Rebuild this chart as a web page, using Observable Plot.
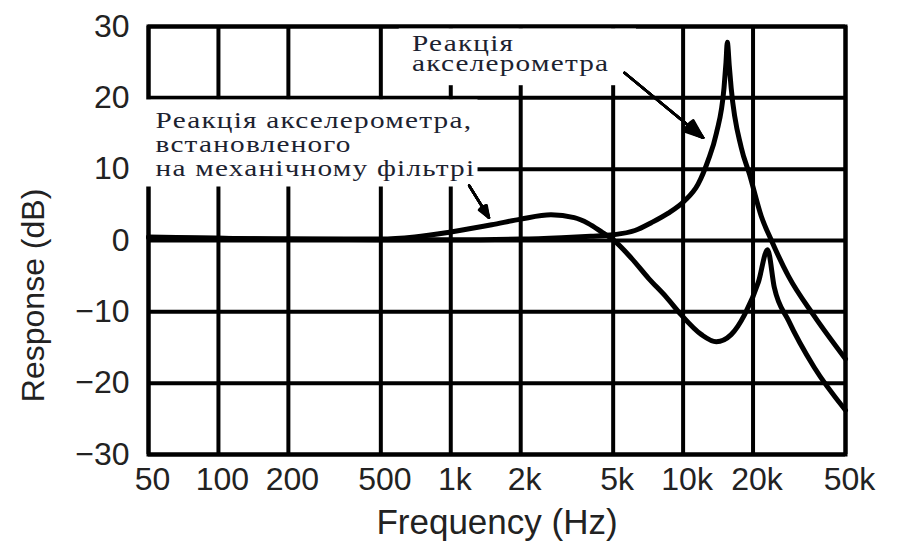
<!DOCTYPE html>
<html>
<head>
<meta charset="utf-8">
<script src="https://cdn.jsdelivr.net/npm/d3@7"></script>
<script src="https://cdn.jsdelivr.net/npm/@observablehq/plot@0.6"></script>
<style>
  html, body { margin: 0; padding: 0; background: #fff; }
</style>
</head>
<body>
<div id="chart"></div>
<script>
// ---- Data ----
// Accelerometer alone
const freqA = [50, 100, 200, 500, 1000, 2000, 3000, 4000, 5000, 6200, 7300, 8600, 10100, 11600, 12800, 13900, 15000, 15300, 15500, 15800, 16100, 17800, 19300, 21700, 24000, 28400, 36700, 50000];
const respA = [0.4, 0.3, 0.2, 0.1, 0.1, 0.2, 0.4, 0.6, 0.8, 1.4, 2.5, 3.8, 5.5, 7.9, 11.2, 15.0, 21.4, 25.0, 27.8, 24.5, 21.4, 13.0, 9.3, 3.4, 0.0, -5.0, -10.6, -16.6];
// Accelerometer mounted on mechanical filter
const freqB = [50, 100, 200, 500, 700, 1000, 1500, 2000, 2700, 3400, 3900, 4500, 5000, 6000, 7100, 8500, 9800, 12000, 13900, 16100, 18400, 21100, 23100, 24700, 28400, 36700, 50000];
const respB = [0.5, 0.3, 0.2, 0.2, 0.5, 1.2, 2.2, 3.0, 3.6, 3.2, 2.4, 1.1, 0.1, -2.5, -5.3, -8.0, -10.4, -13.2, -14.2, -13.2, -10.4, -5.8, -1.3, -6.6, -11.2, -17.8, -23.8];

// Axis ticks and titles
const xTicks = [50, 100, 200, 500, 1000, 2000, 5000, 10000, 20000, 50000];
const xTickLabels = ["50", "100", "200", "500", "1k", "2k", "5k", "10k", "20k", "50k"];
const yTicks = [-30, -20, -10, 0, 10, 20, 30];
const yTickLabels = ["\u221230", "\u221220", "\u221210", "0", "10", "20", "30"];
const xTitle = ["Frequency (Hz)"];
const yTitle = ["Response (dB)"];
const yTitleDb = [-7.7]; // where the rotated y title is centred (in dB)

// Annotations
const noteText = ["Реакція\nакселерометра", "Реакція акселерометра,\nвстановленого\nна механічному фільтрі"];
const noteF = [681, 53.6];
const noteDb = [28.6, 18.2];
// white boxes behind notes
const boxF1 = [600, 49];
const boxF2 = [6300, 1310];
const boxDb1 = [21.7, 7.5];
const boxDb2 = [29.65, 19.7];
// arrows
const arrowF1 = [5600, 1200];
const arrowDb1 = [23.5, 7.7];
const arrowF2 = [12200, 1460];
const arrowDb2 = [14.4, 3.2];

// ---- Build tables ----
const seriesA = freqA.map((f, i) => ({f, db: respA[i]}));
const seriesB = freqB.map((f, i) => ({f, db: respB[i]}));
const boxes = boxF1.map((f, i) => ({x1: f, x2: boxF2[i], y1: boxDb1[i], y2: boxDb2[i]}));
const arrows = arrowF1.map((f, i) => ({x1: f, y1: arrowDb1[i], x2: arrowF2[i], y2: arrowDb2[i]}));
const notes = noteText.map((t, i) => ({t, f: noteF[i], db: noteDb[i]}));
const yLabelMap = new Map(yTicks.map((t, i) => [t, yTickLabels[i]]));
const yTitleRows = yTitle.map((t, i) => ({t, db: yTitleDb[i]}));

const headAngles = [6, 12, 18, 24, 30, 36, 42];
const serif = "'Liberation Serif', 'Times New Roman', serif";

const chart = Plot.plot({
  width: 909,
  height: 541,
  marginLeft: 148,
  marginRight: 64,
  marginTop: 26,
  marginBottom: 87,
  style: {fontFamily: "'Liberation Sans', Arial, sans-serif", fontSize: "32px", color: "#222", background: "white", overflow: "visible"},
  x: {type: "log", domain: [50, 50000], axis: null},
  y: {domain: [-30, 30], ticks: yTicks, tickFormat: d => yLabelMap.get(d), tickSize: 0, tickPadding: 19, label: null},
  marks: [
    Plot.gridX(xTicks, {stroke: "black", strokeOpacity: 1, strokeWidth: 4}),
    Plot.gridY(yTicks, {stroke: "black", strokeOpacity: 1, strokeWidth: 4}),
    Plot.frame({stroke: "black", strokeWidth: 4}),
    Plot.rect(boxes, {x1: "x1", x2: "x2", y1: "y1", y2: "y2", fill: "white"}),
    Plot.line(seriesB, {x: "f", y: "db", stroke: "black", strokeWidth: 5, curve: "monotone-x"}),
    Plot.line(seriesA, {x: "f", y: "db", stroke: "black", strokeWidth: 5, curve: "monotone-x"}),
    ...headAngles.map(a => Plot.arrow(arrows, {x1: "x1", y1: "y1", x2: "x2", y2: "y2", stroke: "black", strokeWidth: 2.5, headAngle: a, headLength: 12})),
    // x tick labels
    Plot.text(xTicks, {x: d => d, text: (d, i) => xTickLabels[i], frameAnchor: "bottom", dy: 13, dx: 4, lineAnchor: "top", fontSize: 32, fill: "#222"}),
    // axis titles
    Plot.text(xTitle, {text: d => d, frameAnchor: "bottom", dy: 68, lineAnchor: "middle", fontSize: 35, fill: "#222"}),
    Plot.text(yTitleRows, {y: "db", text: "t", frameAnchor: "left", textAnchor: "middle", rotate: -90, dx: -115, lineAnchor: "middle", fontSize: 32, fill: "#222"}),
    // annotations
    Plot.text(notes.slice(0, 1), {x: "f", y: "db", text: "t", textAnchor: "start", lineAnchor: "top", fontFamily: serif, fontSize: 24, lineHeight: 0.83, fill: "#1c2230"}),
    Plot.text(notes.slice(1), {x: "f", y: "db", text: "t", textAnchor: "start", lineAnchor: "top", fontFamily: serif, fontSize: 24, lineHeight: 1.0, fill: "#1c2230"})
  ]
});

// stretch the serif annotation text horizontally like the reference
d3.select(chart).selectAll("g").filter(function() {
  const ff = this.getAttribute("font-family");
  return ff && ff.includes("Liberation Serif");
}).selectAll("text").each(function() {
  const el = this;
  el.style.letterSpacing = "1px";
  let t = el.getAttribute("transform");
  if (t) {
    el.setAttribute("transform", t + " scale(1.22,1)");
  } else {
    const x = +el.getAttribute("x") || 0, y = +el.getAttribute("y") || 0;
    el.removeAttribute("x"); el.removeAttribute("y");
    el.setAttribute("transform", `translate(${x},${y}) scale(1.22,1)`);
  }
});
document.getElementById("chart").appendChild(chart);
</script>
</body>
</html>
